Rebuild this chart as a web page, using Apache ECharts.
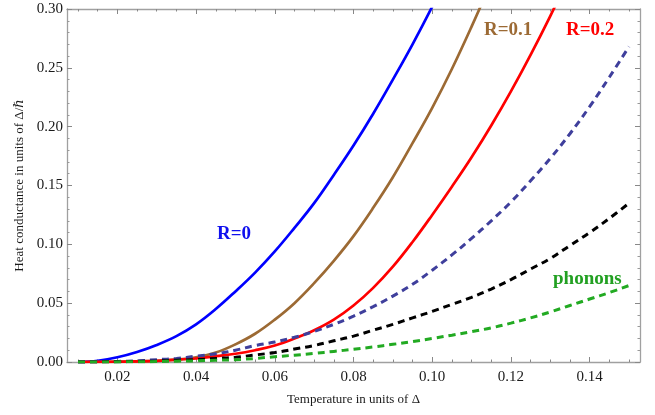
<!DOCTYPE html>
<html>
<head>
<meta charset="utf-8">
<script src="https://cdn.jsdelivr.net/npm/echarts@6/dist/echarts.min.js"></script>
<style>
html,body{margin:0;padding:0;background:#fff;}
#chart{width:655px;height:415px;}
</style>
</head>
<body>
<div id="chart"></div>
<script>
// Temperature in units of Δ
var xs = [0.010,0.015,0.020,0.025,0.030,0.035,0.040,0.045,0.050,0.055,0.060,0.065,0.070,0.075,0.080,0.085,0.090,0.095,0.100,0.105,0.110,0.115,0.120,0.125,0.130,0.135,0.140,0.145,0.150];
// R=0 (blue solid)
var r0 = [0.000,0.001,0.004,0.0085,0.0145,0.022,0.032,0.045,0.060,0.076,0.094,0.114,0.135,0.159,0.184,0.211,0.240,0.270,0.302,0.336,null,null,null,null,null,null,null,null,null];
// R=0.1 (brown solid)
var r01 = [0.000,0.000,0.0003,0.0006,0.001,0.002,0.004,0.008,0.015,0.024,0.036,0.050,0.067,0.086,0.107,0.131,0.157,0.186,0.216,0.249,0.285,0.323,null,null,null,null,null,null,null];
// R=0.2 (red solid)
var r02 = [0.000,0.0001,0.0002,0.0005,0.001,0.002,0.003,0.005,0.007,0.010,0.014,0.020,0.027,0.036,0.048,0.063,0.081,0.102,0.125,0.149,0.174,0.201,0.230,0.261,0.294,0.329,null,null,null];
// navy dashed
var navy = [0.000,0.0002,0.0005,0.001,0.002,0.003,0.005,0.007,0.010,0.014,0.017,0.021,0.026,0.032,0.039,0.047,0.056,0.066,0.078,0.091,0.105,0.120,0.136,0.154,0.173,0.194,0.217,0.242,0.268];
// black dashed
var blackD = [0.000,0.0001,0.0002,0.0005,0.0008,0.0015,0.002,0.003,0.004,0.006,0.008,0.011,0.014,0.018,0.022,0.027,0.032,0.0375,0.043,0.049,0.055,0.062,0.070,0.079,0.088,0.099,0.110,0.122,0.135];
// phonons (green dashed)
var phonons = [0.000,0.0000,0.0001,0.0002,0.0004,0.0007,0.001,0.0015,0.002,0.003,0.0045,0.0058,0.0073,0.009,0.0108,0.0128,0.015,0.0174,0.020,0.0228,0.0258,0.029,0.033,0.0375,0.0425,0.048,0.0535,0.059,0.065];

var xMajor = [0.02,0.04,0.06,0.08,0.10,0.12,0.14];
var xMinor = [0.010,0.015,0.025,0.030,0.035,0.045,0.050,0.055,0.065,0.070,0.075,0.085,0.090,0.095,0.105,0.110,0.115,0.125,0.130,0.135,0.145,0.150];

function pairs(ys){ return xs.map(function(x,i){ return [x, ys[i]]; }); }

var serif = '"Liberation Serif", "DejaVu Serif", serif';
var frame = '#a0a0a0';
var xMin = 0.0072, xMax = 0.1528;

function xAx(pos, vals, len, showLine, showLabel, extra){
  var a = {
    type:'value', position:pos, min:xMin, max:xMax,
    axisLine:{show:showLine, onZero:false, lineStyle:{color:frame, width:1.3}},
    axisTick:{show:true, inside:true, length:len, customValues:vals, lineStyle:{color:'#888', width:1}},
    axisLabel:{show:showLabel},
    splitLine:{show:false}
  };
  if (showLabel){
    a.axisLabel = {show:true, customValues:xMajor, margin:8, color:'#1a1a1a', fontFamily:serif, fontSize:15,
      formatter:function(v){ return v.toFixed(2); }};
  }
  if (extra) for (var k in extra) a[k]=extra[k];
  return a;
}
function yAx(pos, showLabel, extra){
  var a = {
    type:'value', position:pos, min:0, max:0.3, interval:0.05,
    axisLine:{show:true, onZero:false, lineStyle:{color:frame, width:1.3}},
    axisTick:{show:true, inside:true, length:5, lineStyle:{color:'#888', width:1}},
    minorTick:{show:true, splitNumber:5, length:2.5, lineStyle:{color:'#999', width:1}},
    axisLabel:{show:showLabel, margin:4, color:'#1a1a1a', fontFamily:serif, fontSize:15,
      formatter:function(v){ return v.toFixed(2); }},
    splitLine:{show:false}, minorSplitLine:{show:false}
  };
  if (extra) for (var k in extra) a[k]=extra[k];
  return a;
}

function solid(name, ys, color){
  return {name:name, type:'line', data:pairs(ys), xAxisIndex:0, yAxisIndex:0, showSymbol:false,
    smooth:0.4, clip:true, connectNulls:false,
    lineStyle:{color:color, width:2.7, join:'round'}, emphasis:{disabled:true}};
}
function dashed(name, ys, color){
  return {name:name, type:'line', data:pairs(ys), xAxisIndex:0, yAxisIndex:0, showSymbol:false,
    smooth:0.4, clip:true,
    lineStyle:{color:color, width:3, type:[7,5], cap:'butt'}, emphasis:{disabled:true}};
}

var chart = echarts.init(document.getElementById('chart'), null, {renderer:'canvas'});
chart.setOption({
  animation:false,
  backgroundColor:'#ffffff',
  grid:{left:67, right:15, top:9, bottom:53},
  xAxis:[
    xAx('bottom', xMajor, 5, true, true, {name:'Temperature in units of Δ', nameLocation:'middle', nameGap:31,
      nameTextStyle:{color:'#1a1a1a', fontFamily:serif, fontSize:13}}),
    xAx('bottom', xMinor, 2.5, false, false),
    xAx('top', xMajor, 5, true, false),
    xAx('top', xMinor, 2.5, false, false)
  ],
  yAxis:[
    yAx('left', true, {name:'Heat conductance in units of Δ/ℏ', nameLocation:'middle', nameGap:38,
      nameTextStyle:{color:'#1a1a1a', fontFamily:serif, fontSize:13}}),
    yAx('right', false)
  ],
  series:[
    solid('R=0', r0, '#0000ff'),
    solid('R=0.1', r01, '#9c6a34'),
    solid('R=0.2', r02, '#ff0000'),
    dashed('navy', navy, '#3f3f9c'),
    dashed('black', blackD, '#000000'),
    dashed('phonons', phonons, '#22aa22')
  ],
  graphic:[
    {type:'text', left:217, top:225, style:{text:'R=0', fill:'#1010ee', font:'bold 19px "Liberation Serif", serif'}},
    {type:'text', left:484, top:21, style:{text:'R=0.1', fill:'#9c6a34', font:'bold 19px "Liberation Serif", serif'}},
    {type:'text', left:566, top:21, style:{text:'R=0.2', fill:'#ff0000', font:'bold 19px "Liberation Serif", serif'}},
    {type:'text', left:553, top:270, style:{text:'phonons', fill:'#22a022', font:'bold 19px "Liberation Serif", serif'}}
  ]
});
</script>
</body>
</html>
